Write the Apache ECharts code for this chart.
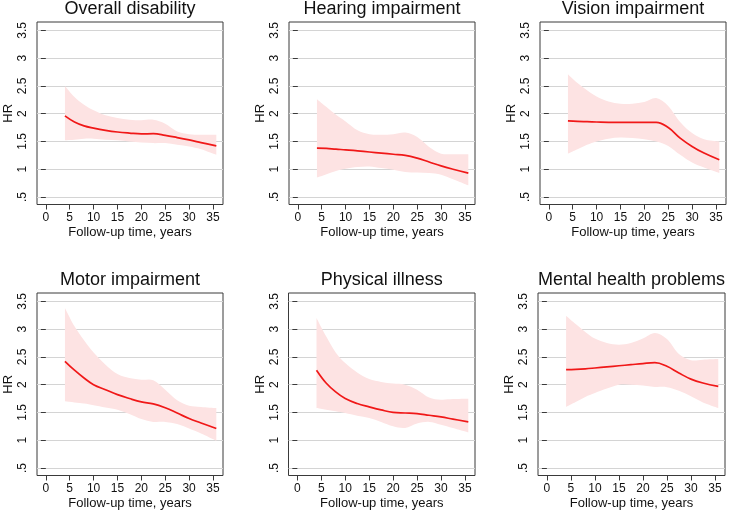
<!DOCTYPE html>
<html><head><meta charset="utf-8">
<script src="https://cdn.jsdelivr.net/npm/echarts@6/dist/echarts.min.js"></script>
<style>html,body{margin:0;padding:0;background:#fff}#c{width:729px;height:512px}</style>
</head><body><div id="c"></div>
<script>
// ---- data ----
const panelTitles = ["Overall disability","Hearing impairment","Vision impairment","Motor impairment","Physical illness","Mental health problems"];
const time = [4, 6, 8, 10, 12.5, 15, 17.5, 20, 22.5, 25, 27.5, 30, 32.5, 35.7];

const hrOverall = [1.96,1.85,1.78,1.74,1.70,1.67,1.65,1.635,1.64,1.61,1.57,1.527,1.48,1.42];
const upOverall = [2.50,2.30,2.16,2.06,1.97,1.92,1.89,1.88,1.89,1.82,1.68,1.63,1.62,1.62];
const loOverall = [1.52,1.53,1.55,1.55,1.53,1.52,1.50,1.48,1.47,1.47,1.44,1.41,1.36,1.26];

const hrHearing = [1.38,1.375,1.36,1.35,1.33,1.31,1.29,1.27,1.25,1.20,1.13,1.06,1.00,0.93];
const upHearing = [2.26,2.12,1.98,1.86,1.70,1.63,1.62,1.63,1.66,1.58,1.40,1.28,1.27,1.27];
const loHearing = [0.85,0.91,0.97,1.01,1.04,1.05,1.02,0.99,0.95,0.94,0.93,0.90,0.82,0.71];

const hrVision = [1.87,1.86,1.855,1.85,1.845,1.845,1.845,1.845,1.845,1.75,1.56,1.41,1.29,1.17];
const upVision = [2.71,2.55,2.42,2.31,2.22,2.18,2.18,2.21,2.28,2.14,1.85,1.65,1.54,1.50];
const loVision = [1.28,1.36,1.44,1.50,1.55,1.57,1.56,1.54,1.50,1.42,1.26,1.12,1.03,0.93];

const hrMotor = [2.42,2.26,2.12,2.00,1.91,1.82,1.75,1.69,1.655,1.585,1.49,1.39,1.31,1.21];
const upMotor = [3.38,3.05,2.80,2.58,2.36,2.19,2.12,2.09,2.08,1.91,1.72,1.62,1.60,1.58];
const loMotor = [1.70,1.68,1.66,1.63,1.59,1.55,1.47,1.38,1.33,1.33,1.29,1.21,1.12,0.99];

const hrPhysical = [2.26,2.03,1.87,1.75,1.66,1.60,1.545,1.50,1.49,1.48,1.45,1.42,1.38,1.33];
const upPhysical = [3.20,2.87,2.58,2.39,2.22,2.10,2.05,2.02,2.00,1.91,1.77,1.73,1.74,1.745];
const loPhysical = [1.58,1.55,1.52,1.49,1.44,1.40,1.33,1.25,1.22,1.30,1.33,1.28,1.22,1.14];

const hrMental = [2.27,2.275,2.285,2.30,2.32,2.34,2.36,2.38,2.395,2.33,2.21,2.10,2.03,1.97];
const upMental = [3.24,3.09,2.95,2.83,2.75,2.72,2.75,2.83,2.93,2.82,2.55,2.44,2.45,2.46];
const loMental = [1.60,1.69,1.78,1.85,1.93,2.00,2.00,1.985,1.96,1.955,1.89,1.79,1.68,1.58];

const xTicks = [0,5,10,15,20,25,30,35];
const yTicks = [0.5,1,1.5,2,2.5,3,3.5];
const xLabel = "Follow-up time, years";
const yLabel = "HR";

const hrSets = [hrOverall,hrHearing,hrVision,hrMotor,hrPhysical,hrMental];
const upSets = [upOverall,upHearing,upVision,upMotor,upPhysical,upMental];
const loSets = [loOverall,loHearing,loVision,loMotor,loPhysical,loMental];

// ---- layout ----
const FONT = "'Liberation Sans', Arial, Helvetica, sans-serif";
const gridPos = [
  {left:37, top:22, width:186, height:182.5},
  {left:289, top:22, width:186, height:182.5},
  {left:540, top:22, width:186, height:182.5},
  {left:37, top:293, width:186, height:182.5},
  {left:288.5, top:293, width:186.5, height:182.5},
  {left:538, top:293, width:187, height:182.5}
];
const titleTops = [0,0,0,271,271,271];

// Catmull-Rom spline through pixel points -> SVG path commands
function spline(p, cmd) {
  let d = cmd + p[0][0] + ' ' + p[0][1];
  for (let i = 0; i < p.length - 1; i++) {
    const p0 = p[i-1] || p[i], p1 = p[i], p2 = p[i+1], p3 = p[i+2] || p[i+1];
    const c1 = [p1[0] + (p2[0]-p0[0])/6, p1[1] + (p2[1]-p0[1])/6];
    const c2 = [p2[0] - (p3[0]-p1[0])/6, p2[1] - (p3[1]-p1[1])/6];
    d += ' C' + c1[0] + ' ' + c1[1] + ' ' + c2[0] + ' ' + c2[1] + ' ' + p2[0] + ' ' + p2[1];
  }
  return d;
}

const grid=[], xAxis=[], yAxis=[], series=[], title=[];
gridPos.forEach((g,i)=>{
  grid.push({left:g.left, top:g.top, width:g.width, height:g.height, show:true,
    borderColor:'#3a3a3a', borderWidth:1, backgroundColor:'#fff', containLabel:false});
  title.push({text:panelTitles[i], left:g.left+g.width/2, top:titleTops[i], textAlign:'center', padding:0,
    textStyle:{fontFamily:FONT, fontSize:18, fontWeight:'normal', color:'#111'}});
  xAxis.push({type:'value', gridIndex:i, min:-1.85, max:37.1,
    name:xLabel, nameLocation:'middle', nameGap:21,
    nameTextStyle:{fontFamily:FONT, fontSize:13, color:'#111'},
    axisLine:{show:false},
    axisTick:{show:true, length:5, inside:false, customValues:xTicks, lineStyle:{color:'#3a3a3a', width:1}},
    axisLabel:{customValues:xTicks, margin:7, fontFamily:FONT, fontSize:12, color:'#111'},
    splitLine:{show:false}});
  yAxis.push({type:'value', gridIndex:i, min:0.365, max:3.65,
    name:yLabel, nameLocation:'middle', nameGap:22,
    nameTextStyle:{fontFamily:FONT, fontSize:13, color:'#111'},
    axisLine:{show:false},
    axisTick:{show:true, length:5, inside:false, customValues:yTicks, lineStyle:{color:'#3a3a3a', width:1}},
    axisLabel:{customValues:yTicks, rotate:90, margin:8, fontFamily:FONT, fontSize:12, color:'#111',
      formatter:v=> (Math.abs(v-0.5)<1e-9 ? '.5' : String(v))},
    splitLine:{show:true, lineStyle:{color:'#d4d4d4', width:1}}});
  const lo = loSets[i], up = upSets[i], hr = hrSets[i];
  // confidence band as one filled shape, positioned through the axes (api.coord)
  series.push({type:'custom', xAxisIndex:i, yAxisIndex:i, silent:true, z:2, clip:true,
    data: time.map((t,k)=>[t, lo[k], up[k]]),
    encode:{x:0, y:[1,2]},
    renderItem:(params, api)=>{
      if (params.dataIndex !== 0) return null;
      const upper = time.map((t,k)=>api.coord([t, up[k]]));
      const lower = time.map((t,k)=>api.coord([t, lo[k]])).reverse();
      const d = spline(upper, 'M') + ' ' + spline(lower, 'L').replace(/^L/, 'L') + ' Z';
      return {type:'path', shape:{pathData:d}, style:{fill:'#fde3e3', stroke:null}};
    }});
  series.push({type:'line', xAxisIndex:i, yAxisIndex:i, smooth:0.4, symbol:'none', silent:true,
    lineStyle:{color:'#f01818', width:1.7}, data: time.map((t,k)=>[t, hr[k]]), z:3});
});

const chart = echarts.init(document.getElementById('c'), null, {renderer:'canvas'});
chart.setOption({animation:false, backgroundColor:'#fff', title, grid, xAxis, yAxis, series});
</script></body></html>
